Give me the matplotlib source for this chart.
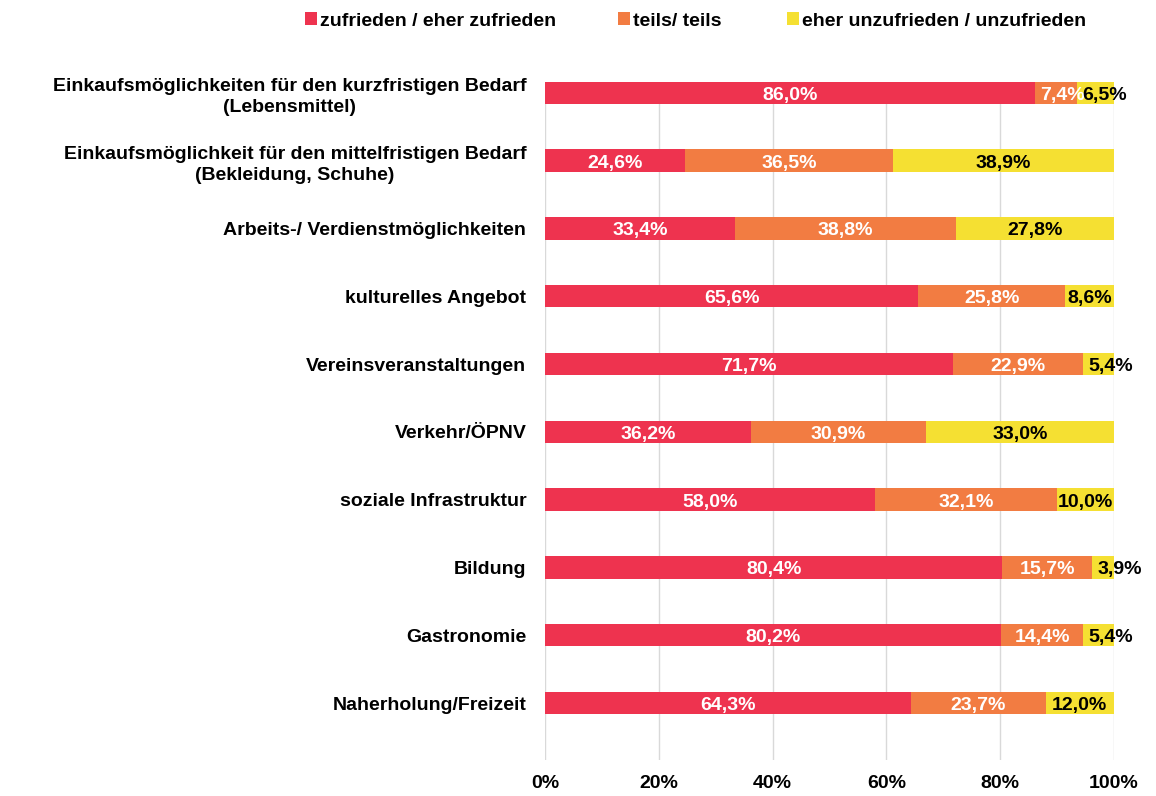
import matplotlib
matplotlib.use("Agg")
import matplotlib.pyplot as plt
from matplotlib.patches import Patch
import numpy as np

categories = [
    "Einkaufsmöglichkeiten für den kurzfristigen Bedarf\n(Lebensmittel)",
    "Einkaufsmöglichkeit für den mittelfristigen Bedarf\n(Bekleidung, Schuhe)",
    "Arbeits-/ Verdienstmöglichkeiten",
    "kulturelles Angebot",
    "Vereinsveranstaltungen",
    "Verkehr/ÖPNV",
    "soziale Infrastruktur",
    "Bildung",
    "Gastronomie",
    "Naherholung/Freizeit",
]
series_names = ["zufrieden / eher zufrieden", "teils/ teils", "eher unzufrieden / unzufrieden"]
zufrieden = [86.0, 24.6, 33.4, 65.6, 71.7, 36.2, 58.0, 80.4, 80.2, 64.3]
teils = [7.4, 36.5, 38.8, 25.8, 22.9, 30.9, 32.1, 15.7, 14.4, 23.7]
unzufrieden = [6.5, 38.9, 27.8, 8.6, 5.4, 33.0, 10.0, 3.9, 5.4, 12.0]
xticklabels = ["0%", "20%", "40%", "60%", "80%", "100%"]

colors = ["#EE334F", "#F27C42", "#F5E032"]
text_colors = ["white", "white", "black"]

plt.rcParams["font.family"] = ["Liberation Sans", "DejaVu Sans"]
plt.rcParams["font.weight"] = "bold"
FS = 14

fig = plt.figure(figsize=(11.56, 7.96), dpi=100)
ax = fig.add_axes([545 / 1156, 1 - 760 / 796, (1114 - 545) / 1156, (760 - 82) / 796])

data = np.array([zufrieden, teils, unzufrieden])
totals = data.sum(axis=0)
shares = data / totals * 100.0
y = np.arange(len(categories))

left = np.zeros(len(categories))
for k in range(3):
    ax.barh(y, shares[k], left=left, height=0.33, color=colors[k], zorder=3)
    for i in range(len(categories)):
        val = data[k, i]
        lab = f"{val:.1f}%".replace(".", ",")
        if shares[k, i] < 7.5:
            ax.annotate(lab, (left[i], y[i]), xytext=(4, -5), textcoords="offset points",
                        ha="left", va="baseline", color=text_colors[k], fontsize=FS,
                        fontweight="bold", zorder=5)
        else:
            ax.annotate(lab, (left[i] + shares[k, i] / 2, y[i]), xytext=(0, -5),
                        textcoords="offset points", ha="center", va="baseline",
                        color=text_colors[k], fontsize=FS, fontweight="bold", zorder=5)
    left += shares[k]

ax.set_xlim(0, 100)
ax.set_ylim(9.84, -0.16)
ax.set_xticks(np.linspace(0, 100, 6))
ax.set_xticklabels(xticklabels, fontsize=FS, fontweight="bold")
ax.set_yticks(y)
ax.set_yticklabels(categories, fontsize=FS, fontweight="bold", multialignment="center",
                   linespacing=1.3)
ax.tick_params(axis="both", length=0)
ax.tick_params(axis="y", pad=13.5)
ax.tick_params(axis="x", pad=10.5)
ax.grid(axis="x", color="#D9D9D9", linewidth=1, zorder=0)
for s in ax.spines.values():
    s.set_visible(False)

legend_x = [305, 618, 787]
for name, c, lx in zip(series_names, colors, legend_x):
    fig.legend([Patch(facecolor=c, edgecolor="none")], [name], loc="center left",
               bbox_to_anchor=(lx / 1156, 1 - 21 / 796), frameon=False,
               handlelength=0.62, handleheight=0.62, handletextpad=0.15,
               borderpad=0, borderaxespad=0, prop={"weight": "bold", "size": FS})

fig.savefig("out.png", dpi=100)
